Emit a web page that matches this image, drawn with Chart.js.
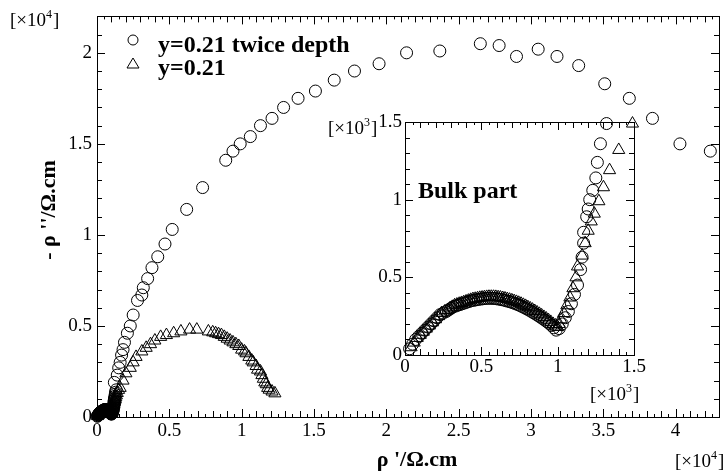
<!DOCTYPE html>
<html>
<head>
<meta charset="utf-8">
<script src="https://cdn.jsdelivr.net/npm/chart.js@4.4.1/dist/chart.umd.min.js"></script>
<style>
html, body { margin: 0; padding: 0; background: #fff; }
#wrap { position: relative; width: 727px; height: 476px; }
#wrap canvas { position: absolute; left: 0; top: 0; }
</style>
</head>
<body>
<div id="wrap">
  <canvas id="mainChart" width="727" height="476"></canvas>
  <canvas id="insetChart" width="727" height="476"></canvas>
</div>
<script>
// bulk part (inset), units of 10^3 ohm.cm
const bulkCircleX = [0.03,0.05,0.07,0.09,0.11,0.13,0.15,0.17,0.19,0.21,0.23,0.25,
  0.27,0.285,0.30,0.315,0.33,0.345,0.36,0.375,0.39,0.405,0.42,0.435,0.45,0.465,0.48,0.495,0.51,0.525,0.54,0.555,
  0.57,0.585,0.60,0.615,0.63,0.645,0.66,0.675,0.69,0.705,0.72,0.735,0.75,0.765,0.78,0.795,0.81,0.825,0.84,0.855,
  0.87,0.885,0.90,0.915,0.93,0.945,0.96,0.975,0.99,
  1.01,1.03,1.05,1.07,1.09,1.11,1.13,1.15,1.16,1.17,1.17,1.19,1.20,1.21,1.23,1.25,1.26,1.28,1.32];
const bulkCircleY = [0.04,0.07,0.10,0.12,0.14,0.16,0.18,0.20,0.22,0.24,0.26,0.27,
  0.28,0.29,0.30,0.31,0.315,0.32,0.325,0.33,0.335,0.34,0.345,0.35,0.352,0.355,0.358,0.36,0.362,0.364,0.365,0.365,
  0.365,0.364,0.362,0.36,0.357,0.354,0.35,0.346,0.342,0.337,0.332,0.326,0.32,0.313,0.306,0.298,0.29,0.282,0.273,0.264,
  0.255,0.245,0.235,0.225,0.214,0.203,0.19,0.175,0.16,
  0.17,0.20,0.24,0.28,0.33,0.39,0.45,0.55,0.63,0.72,0.79,0.89,0.94,1.00,1.06,1.14,1.24,1.36,1.49];
const bulkTriX = [0.04,0.06,0.08,0.10,0.12,0.14,0.16,0.18,0.20,0.22,0.24,0.26,
  0.28,0.295,0.31,0.325,0.34,0.355,0.37,0.385,0.40,0.415,0.43,0.445,0.46,0.475,0.49,0.505,0.52,0.535,0.55,0.565,
  0.58,0.595,0.61,0.625,0.64,0.655,0.67,0.685,0.70,0.715,0.73,0.745,0.76,0.775,0.79,0.805,0.82,0.835,0.85,0.865,
  0.88,0.895,0.91,0.925,0.94,0.955,0.97,0.985,1.00,
  1.01,1.02,1.04,1.06,1.08,1.10,1.12,1.13,1.16,1.18,1.20,1.22,1.24,1.27,1.30,1.34,1.40,1.49];
const bulkTriY = [0.05,0.08,0.11,0.13,0.15,0.17,0.19,0.21,0.23,0.25,0.27,0.28,
  0.29,0.30,0.31,0.32,0.325,0.33,0.335,0.34,0.345,0.35,0.355,0.36,0.362,0.365,0.368,0.37,0.372,0.374,0.375,0.375,
  0.375,0.374,0.372,0.37,0.367,0.364,0.36,0.356,0.352,0.347,0.342,0.336,0.33,0.323,0.316,0.308,0.30,0.292,0.283,0.274,
  0.265,0.255,0.245,0.235,0.224,0.213,0.20,0.19,0.18,
  0.20,0.23,0.27,0.32,0.37,0.43,0.50,0.57,0.64,0.72,0.80,0.86,0.91,0.99,1.08,1.19,1.32,1.49];

// rest of the spectra, units of 10^4 ohm.cm
const mainCircleX = [0.12,0.14,0.15,0.16,0.17,0.18,0.19,0.21,0.23,0.25,0.28,0.31,0.32,0.35,0.38,0.42,0.47,0.52,0.62,0.73,
  0.89,0.94,0.99,1.06,1.13,1.21,1.29,1.39,1.51,1.64,1.78,1.95,2.14,2.37,2.65,2.78,2.90,3.05,3.18,3.33,
  3.51,3.68,3.84,4.03,4.24];
const mainCircleY = [0.19,0.23,0.27,0.30,0.34,0.37,0.41,0.46,0.50,0.56,0.64,0.67,0.71,0.76,0.82,0.88,0.95,1.03,1.14,1.26,
  1.41,1.46,1.50,1.54,1.60,1.64,1.70,1.75,1.79,1.85,1.90,1.94,2.00,2.01,2.05,2.04,1.98,2.02,1.98,1.93,
  1.83,1.75,1.64,1.50,1.46];
const mainTriX = [0.16,0.18,0.20,0.23,0.25,0.27,0.31,0.34,0.37,0.40,0.44,0.48,0.53,0.58,0.64,0.69,0.77,0.80,0.82,0.84,
  0.86,0.88,0.90,0.92,0.94,0.96,0.98,1.00,1.02,1.03,1.05,1.07,1.08,1.10,1.11,1.13,1.14,1.15,1.16,1.17,
  1.18,1.19,1.21,1.23];
const mainTriY = [0.16,0.20,0.24,0.27,0.30,0.33,0.36,0.38,0.40,0.42,0.44,0.45,0.46,0.47,0.48,0.48,0.47,0.465,0.46,0.455,
  0.45,0.44,0.43,0.42,0.41,0.40,0.39,0.37,0.36,0.35,0.33,0.31,0.30,0.28,0.26,0.25,0.23,0.21,0.19,0.18,
  0.16,0.15,0.14,0.13];

const seriesNames = ['y=0.21 twice depth', 'y=0.21'];

function pts(xs, ys, scale) {
  return xs.map((x, i) => ({ x: x * scale, y: ys[i] * scale }));
}

const SERIF = '"Liberation Serif", "Times New Roman", serif';

// inward tick marks on all four sides + frame
function drawFrameTicks(chart, xStep, xSub, yStep, ySub) {
  const ctx = chart.ctx, a = chart.chartArea;
  const xs = chart.scales.x, ys = chart.scales.y;
  ctx.save();
  ctx.strokeStyle = '#000';
  ctx.lineWidth = 1;
  ctx.beginPath();
  const nx = Math.round((xs.max - xs.min) / xStep);
  for (let i = 0; i <= nx; i++) {
    const px = Math.round(xs.getPixelForValue(xs.min + i * xStep)) + 0.5;
    const len = i % (xSub * 5) === 0 ? 8 : (i % xSub === 0 ? 6 : 3);
    ctx.moveTo(px, a.bottom); ctx.lineTo(px, a.bottom - len);
    ctx.moveTo(px, a.top); ctx.lineTo(px, a.top + len);
  }
  const ny = Math.round((ys.max - ys.min) / yStep);
  for (let i = 0; i <= ny; i++) {
    const py = Math.round(ys.getPixelForValue(ys.min + i * yStep)) + 0.5;
    const len = i % ySub === 0 ? 8 : 5;
    ctx.moveTo(a.left, py); ctx.lineTo(a.left + len, py);
    ctx.moveTo(a.right, py); ctx.lineTo(a.right - len, py);
  }
  ctx.stroke();
  ctx.strokeRect(Math.round(a.left) + 0.5, Math.round(a.top) + 0.5,
    Math.round(a.right - a.left), Math.round(a.bottom - a.top));
  ctx.restore();
}

function sciLabel(ctx, x, y, exp) {
  ctx.textAlign = 'left';
  ctx.textBaseline = 'alphabetic';
  ctx.font = '19px ' + SERIF;
  ctx.fillText('[\u00d710', x, y);
  const w = ctx.measureText('[\u00d710').width;
  ctx.font = '12px ' + SERIF;
  ctx.fillText(exp, x + w, y - 8);
  const w2 = ctx.measureText(exp).width;
  ctx.font = '19px ' + SERIF;
  ctx.fillText(']', x + w + w2 + 1, y);
}

const mainDecor = {
  id: 'mainDecor',
  afterDraw(chart) {
    drawFrameTicks(chart, 0.05, 2, 0.1, 5);
    const ctx = chart.ctx;
    ctx.save();
    ctx.fillStyle = '#000';
    ctx.strokeStyle = '#000';
    ctx.lineWidth = 1;
    // legend
    ctx.beginPath();
    ctx.arc(133, 40, 5, 0, Math.PI * 2);
    ctx.stroke();
    ctx.beginPath();
    ctx.moveTo(133, 58); ctx.lineTo(139, 68); ctx.lineTo(127, 68); ctx.closePath();
    ctx.stroke();
    ctx.font = 'bold 24px ' + SERIF;
    ctx.textAlign = 'left';
    ctx.textBaseline = 'alphabetic';
    ctx.fillText(seriesNames[0], 158, 52);
    ctx.fillText(seriesNames[1], 158, 75);
    // axis titles
    ctx.font = 'bold 22px ' + SERIF;
    ctx.textAlign = 'center';
    ctx.fillText('\u03c1 \'/\u03a9.cm', 417, 466);
    ctx.save();
    ctx.translate(49, 210);
    ctx.rotate(-Math.PI / 2);
    ctx.textBaseline = 'middle';
    ctx.fillText('- \u03c1 \'\'/\u03a9.cm', 0, 0);
    ctx.restore();
    sciLabel(ctx, 10, 26, '4');
    sciLabel(ctx, 675, 467, '4');
    ctx.restore();
  }
};

const insetDecor = {
  id: 'insetDecor',
  beforeDatasetsDraw(chart) {
    const a = chart.chartArea, ctx = chart.ctx;
    ctx.save();
    ctx.fillStyle = '#fff';
    ctx.fillRect(a.left, a.top, a.right - a.left, a.bottom - a.top);
    ctx.restore();
  },
  afterDraw(chart) {
    drawFrameTicks(chart, 0.05, 2, 0.1, 5);
    const ctx = chart.ctx;
    ctx.save();
    ctx.fillStyle = '#000';
    ctx.font = 'bold 24px ' + SERIF;
    ctx.textAlign = 'left';
    ctx.textBaseline = 'alphabetic';
    ctx.fillText('Bulk part', 418, 198);
    sciLabel(ctx, 328, 134, '3');
    sciLabel(ctx, 590, 400, '3');
    ctx.restore();
  }
};

const circleStyle = { pointStyle: 'circle', pointRadius: 6, borderColor: '#000', backgroundColor: 'rgba(0,0,0,0)', borderWidth: 1, showLine: false };
const triStyle = { pointStyle: 'triangle', pointRadius: 7, borderColor: '#000', backgroundColor: 'rgba(0,0,0,0)', borderWidth: 1, showLine: false };

function axis(min, max, step, extra) {
  return Object.assign({
    type: 'linear', min: min, max: max,
    grid: { display: false, drawTicks: false },
    border: { display: false },
    ticks: {
      stepSize: step, includeBounds: false, color: '#000', autoSkip: false, maxRotation: 0,
      font: { family: SERIF, size: 19 },
      callback: v => String(+v.toFixed(2))
    }
  }, extra);
}

new Chart(document.getElementById('mainChart'), {
  type: 'scatter',
  data: {
    datasets: [
      Object.assign({ label: seriesNames[0], clip: false,
        data: pts(bulkCircleX, bulkCircleY, 0.1).concat(pts(mainCircleX, mainCircleY, 1)) }, circleStyle),
      Object.assign({ label: seriesNames[1], clip: false,
        data: pts(bulkTriX, bulkTriY, 0.1).concat(pts(mainTriX, mainTriY, 1)) }, triStyle)
    ]
  },
  options: {
    responsive: false, animation: false, devicePixelRatio: 1,
    layout: { padding: { top: 13, right: 2, left: 0, bottom: 0 } },
    plugins: { legend: { display: false }, tooltip: { enabled: false } },
    scales: {
      x: (() => { const s = axis(0, 4.3, 0.5, { afterFit(sc) { sc.height = 59; } }); s.ticks.padding = 3; return s; })(),
      y: (() => { const s = axis(0, 2.2, 0.5, { afterFit(sc) { sc.width = 97; } }); s.ticks.padding = 5; return s; })()
    }
  },
  plugins: [mainDecor]
});

new Chart(document.getElementById('insetChart'), {
  type: 'scatter',
  data: {
    datasets: [
      Object.assign({ label: seriesNames[0], clip: 8, data: pts(bulkCircleX, bulkCircleY, 1) }, circleStyle),
      Object.assign({ label: seriesNames[1], clip: 8, data: pts(bulkTriX, bulkTriY, 1) }, triStyle)
    ]
  },
  options: {
    responsive: false, animation: false, devicePixelRatio: 1,
    layout: { padding: { top: 122, right: 93, left: 375, bottom: 91 } },
    plugins: { legend: { display: false }, tooltip: { enabled: false } },
    scales: {
      x: (() => { const s = axis(0, 1.5, 0.5, { afterFit(sc) { sc.height = 30; } }); s.ticks.padding = 1; return s; })(),
      y: (() => { const s = axis(0, 1.5, 0.5, { afterFit(sc) { sc.width = 30; } }); s.ticks.padding = 3; return s; })()
    }
  },
  plugins: [insetDecor]
});
</script>
</body>
</html>
